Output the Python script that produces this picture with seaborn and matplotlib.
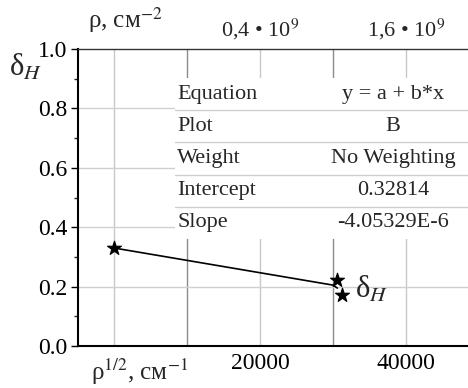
import matplotlib
matplotlib.use("Agg")
import matplotlib.pyplot as plt
import seaborn as sns
import pandas as pd

# measured points (rho^1/2, delta_H)
x_points = [0, 30500, 31200]
y_points = [0.33, 0.222, 0.172]

# linear fit line as drawn on the chart
x_fit = [0, 30000, 30600]
y_fit = [0.33, 0.205, 0.195]

x_ticks = [20000, 40000]
x_tick_labels = ["20000", "40000"]
top_ticks = [20000, 40000]
top_tick_labels = ["0,4 • 10$^9$", "1,6 • 10$^9$"]
y_ticks = [0.0, 0.2, 0.4, 0.6, 0.8, 1.0]

table_keys = ["Equation", "Plot", "Weight", "Intercept", "Slope"]
table_vals = ["y = a + b*x", "B", "No Weighting", "0.32814", "-4.05329E-6"]

SERIF = "Liberation Serif"

sns.set_theme(style="white")
plt.rcParams["font.family"] = "serif"
plt.rcParams["font.serif"] = [SERIF, "DejaVu Serif"]
plt.rcParams["mathtext.fontset"] = "stix"

fig = plt.figure(figsize=(4.68, 3.88), dpi=100)
W, H = 468, 388
ax = fig.add_axes([77.5 / W, 42 / H, (479 - 77.5) / W, 297 / H])

ax.set_xlim(-5000, 50000)
ax.set_ylim(0, 1.0)

# grid lines
for gx in [0, 20000, 40000]:
    ax.axvline(gx, color="#c8c8c8", lw=1, zorder=0)
for gx in [10000, 30000]:
    ax.axvline(gx, color="#8c8c8c", lw=1, zorder=0)
for gy in [0.2, 0.4, 0.6, 0.8]:
    ax.axhline(gy, color="#d0d0d0", lw=1, zorder=0)

df_fit = pd.DataFrame({"x": x_fit, "y": y_fit})
df_pts = pd.DataFrame({"x": x_points, "y": y_points})
sns.lineplot(data=df_fit, x="x", y="y", ax=ax, color="black", lw=1.2, sort=False, zorder=3)
sns.scatterplot(data=df_pts, x="x", y="y", ax=ax, marker="*", s=110, color="black",
                edgecolor="black", zorder=4)

ax.set_xlabel("")
ax.set_ylabel("")
ax.set_xticks(x_ticks, labels=x_tick_labels)
ax.set_yticks(y_ticks, labels=[f"{v:.1f}" for v in y_ticks])
ax.set_yticks([0.1, 0.3, 0.5, 0.7, 0.9], minor=True)
ax.tick_params(axis="x", length=0, labelsize=17, pad=5, colors="black",
               labelfontfamily=SERIF)
ax.tick_params(axis="y", which="major", length=5, width=1, direction="out",
               labelsize=17, pad=2, left=True, colors="black", labelfontfamily=SERIF)
ax.tick_params(axis="y", which="minor", length=3, width=1, direction="out", left=True)
for s in ["left", "bottom"]:
    ax.spines[s].set_color("black")
    ax.spines[s].set_linewidth(1.5)
ax.spines["top"].set_color("#333333")
ax.spines["top"].set_linewidth(1)
ax.spines["right"].set_visible(False)

top = ax.secondary_xaxis("top")
top.set_xticks(top_ticks, labels=top_tick_labels)
top.tick_params(length=0, labelsize=16, pad=5, labelfontfamily=SERIF)
top.spines["top"].set_visible(False)

# table block (white box with rows)
def px(x, y):
    return ((x - 77.5) / (479 - 77.5), (346 - y) / 297)

x0, _ = px(175, 0)
_, yt = px(0, 78)
_, yb = px(0, 239)
ax.add_patch(plt.Rectangle((x0, yb), 1 - x0, yt - yb, transform=ax.transAxes,
                           facecolor="white", edgecolor="none", zorder=2))
row_h = (yt - yb) / 5
for i in range(1, 5):
    yy = yt - i * row_h
    ax.plot([x0, 1], [yy, yy], transform=ax.transAxes, color="#d0d0d0", lw=1, zorder=2.5)
xc, _ = px(393, 0)
for i, (k, v) in enumerate(zip(table_keys, table_vals)):
    yy = yt - (i + 0.5) * row_h
    ax.text(x0 + 0.005, yy, k, transform=ax.transAxes, ha="left", va="center",
            fontsize=16, zorder=3)
    ax.text(xc, yy, v, transform=ax.transAxes, ha="center", va="center",
            fontsize=16, zorder=3)

# legend-like label next to the points
ax.text(33000, 0.19, "δ$_H$", fontsize=22, ha="left", va="center", zorder=5)

# axis titles
fig.text(26 / W, 1 - 68 / H, "δ$_H$", fontsize=22, ha="center", va="center")
fig.text(125 / W, 1 - 20 / H, "ρ, см$^{\\mathrm{-2}}$", fontsize=18, ha="center", va="center")
fig.text(140 / W, 1 - 372 / H, "ρ$^{1/2}$, см$^{\\mathrm{-1}}$", fontsize=18, ha="center", va="center")

fig.savefig("out.png", dpi=100)
